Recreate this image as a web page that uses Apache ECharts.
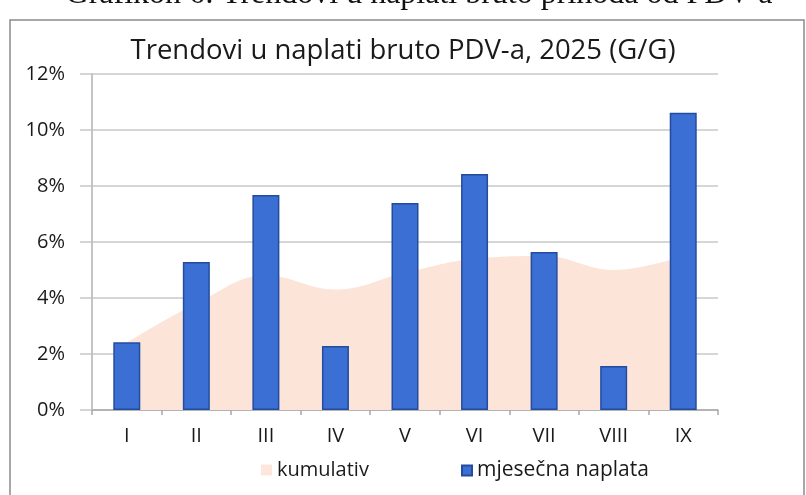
<!DOCTYPE html>
<html>
<head>
<meta charset="utf-8">
<script src="https://cdn.jsdelivr.net/npm/echarts@6/dist/echarts.min.js"></script>
<style>
html,body{margin:0;padding:0;background:#fff;}
#c{width:806px;height:495px;}
</style>
</head>
<body>
<div id="c"></div>
<script>
const categories = ['I','II','III','IV','V','VI','VII','VIII','IX'];
const monthly = [2.42, 5.29, 7.68, 2.29, 7.39, 8.43, 5.64, 1.57, 10.62];
const cumulative = [2.4, 3.8, 4.8, 4.3, 4.9, 5.4, 5.5, 5.0, 5.5];
const yTicks = [0, 2, 4, 6, 8, 10, 12];
const titleText = 'Trendovi u naplati bruto PDV-a, 2025 (G/G)';
const headerText = 'Grafikon 6: Trendovi u naplati bruto prihoda od PDV-a';
const seriesNames = ['kumulativ', 'mjesečna naplata'];

const FONT = 'Open Sans';
const chart = echarts.init(document.getElementById('c'), null, {renderer: 'canvas'});
chart.setOption({
  backgroundColor: '#ffffff',
  animation: false,
  textStyle: {fontFamily: FONT},
  title: {
    text: titleText,
    left: 'center',
    top: 32,
    textStyle: {fontFamily: FONT, fontSize: 27.5, fontWeight: 'normal', color: '#1a1a1a'}
  },
  graphic: [
    {
      type: 'rect',
      shape: {x: 10, y: 20, width: 794, height: 490},
      style: {fill: 'none', stroke: '#8a8a8a', lineWidth: 1.5},
      silent: true, z: -1
    },
    {
      type: 'text',
      x: 419, y: -21,
      style: {
        text: headerText,
        fontFamily: 'Liberation Serif',
        fontSize: 32,
        fill: '#111',
        align: 'center',
        verticalAlign: 'top'
      },
      silent: true
    }
  ],
  legend: [
    {
      data: [seriesNames[0]],
      left: 256, top: 455,
      itemWidth: 11, itemHeight: 11, itemGap: 0,
      icon: 'rect',
      textStyle: {fontFamily: FONT, fontSize: 20, color: '#1a1a1a'}
    },
    {
      data: [seriesNames[1]],
      left: 456, top: 455,
      itemWidth: 10, itemHeight: 10, itemGap: 0,
      icon: 'rect',
      textStyle: {fontFamily: FONT, fontSize: 21, color: '#1a1a1a'}
    }
  ],
  grid: {left: 92, right: 88, top: 74, bottom: 85, containLabel: false},
  xAxis: {
    type: 'category',
    data: categories,
    boundaryGap: true,
    axisLine: {lineStyle: {color: '#a8a8a8', width: 1.5}},
    axisTick: {show: true, length: 5, lineStyle: {color: '#a8a8a8', width: 1.5}},
    axisLabel: {fontFamily: FONT, fontSize: 20, color: '#1a1a1a', margin: 16}
  },
  yAxis: {
    type: 'value',
    min: 0, max: 12, interval: 2,
    axisLine: {show: true, lineStyle: {color: '#b0b0b0', width: 1.5}},
    axisTick: {show: true, length: 12, lineStyle: {color: '#c8c8c8', width: 1.5}},
    splitLine: {lineStyle: {color: '#c8c8c8', width: 1.5}},
    axisLabel: {
      fontFamily: FONT, fontSize: 20, color: '#1a1a1a', margin: 27,
      formatter: v => yTicks.includes(v) ? v + '%' : ''
    }
  },
  series: [
    {
      name: seriesNames[0],
      type: 'line',
      data: cumulative,
      smooth: 0.4,
      showSymbol: false,
      symbol: 'none',
      lineStyle: {width: 0, color: '#fde6dc'},
      itemStyle: {color: '#fde6dc'},
      areaStyle: {color: '#fde4d9', opacity: 1},
      z: 1
    },
    {
      name: seriesNames[1],
      type: 'bar',
      data: monthly,
      barWidth: 27,
      itemStyle: {color: '#3b6fd3', borderColor: '#234c9e', borderWidth: 1.5},
      z: 2
    }
  ]
});
</script>
</body>
</html>
